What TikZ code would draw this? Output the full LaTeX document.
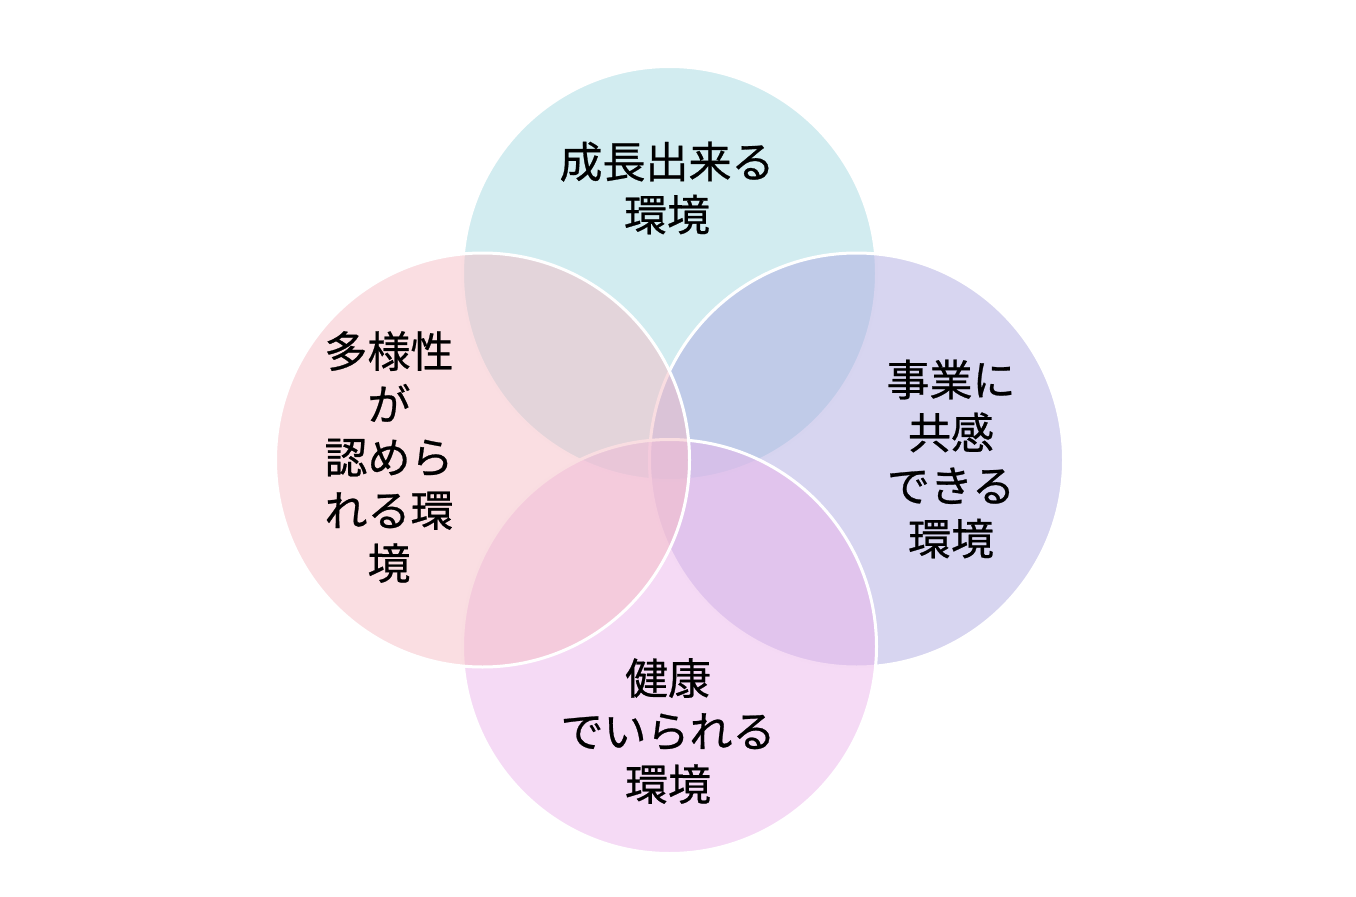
\documentclass[tikz,border=0pt]{standalone}
\usepackage{fontspec}
\newfontfamily\jpfont[FakeBold=0.6]{Noto Sans CJK JP}
\definecolor{topc}{RGB}{165,217,225}
\definecolor{rightc}{RGB}{175,171,225}
\definecolor{bottomc}{RGB}{235,181,235}
\definecolor{leftc}{RGB}{245,189,197}
\tikzset{
  blob/.style={circle, draw=white, line width=3pt, fill opacity=0.5, minimum size=414pt, inner sep=0pt},
  label/.style={align=center, text=black, inner sep=0pt, font=\jpfont\fontsize{43}{53}\selectfont}
}
\begin{document}
\begin{tikzpicture}[x=1pt,y=-1pt]
\useasboundingbox (0,0) rectangle (1356,896);
\node[blob, fill=topc] (ctop) at (669.5,273.5) {};
\node[blob, fill=rightc] (cright) at (856.5,460) {};
\node[blob, fill=bottomc] (cbottom) at (669.5,646.5) {};
\node[blob, fill=leftc] (cleft) at (482.5,460) {};
\node[label] (ttop) at (667,188) {成長出来る\\環境};
\node[label] (tleft) at (389,457) {多様性\\が\\認めら\\れる環\\境};
\node[label] (tright) at (951,459) {事業に\\共感\\できる\\環境};
\node[label] (tbottom) at (668,731) {健康\\でいられる\\環境};
\end{tikzpicture}
\end{document}
